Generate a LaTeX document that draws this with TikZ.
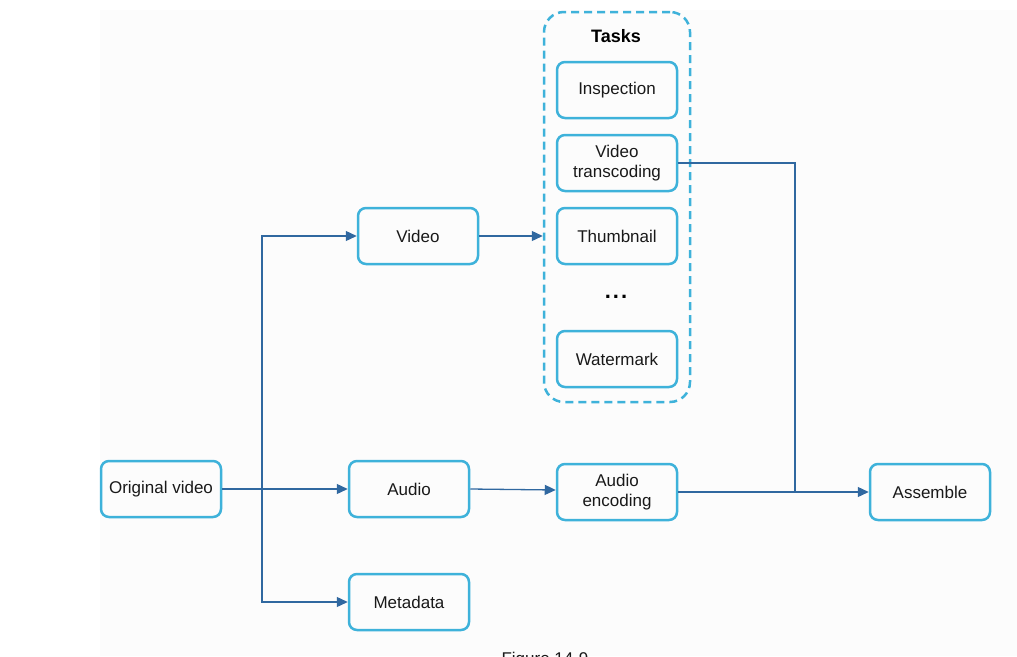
\documentclass[tikz,border=0pt]{standalone}
\usepackage{fontspec}
\setmainfont{Liberation Sans}
\usetikzlibrary{arrows.meta}
\definecolor{boxc}{RGB}{62,178,218}
\definecolor{linec}{RGB}{48,104,160}
\definecolor{bgc}{RGB}{252,252,252}
\definecolor{txtc}{RGB}{25,25,25}
\tikzset{
  box/.style={draw=boxc, line width=2.5pt, rounded corners=8pt, minimum width=120pt, minimum height=56pt, align=center, inner sep=2pt, text=txtc, font=\fontsize{17}{20}\selectfont},
  conn/.style={draw=linec, line width=1.3pt},
  arr/.style={conn, -{Triangle[length=11pt,width=10pt]}},
  group/.style={draw=boxc, line width=2.5pt, dash pattern=on 8pt off 5pt, rounded corners=20pt}
}
\begin{document}
\begin{tikzpicture}[x=1pt,y=-1pt]
\useasboundingbox (0,0) rectangle (1017,656);
\fill[bgc] (100,10) rectangle (1017,656);
% nodes
\node[box] (ov) at (161,489) {Original video};
\node[box] (video) at (418,236) {Video};
\node[box] (audio) at (409,489) {Audio};
\node[box] (meta) at (409,602) {Metadata};
\node[group, minimum width=146pt, minimum height=390pt] (tasks) at (617,207) {};
\node[font=\bfseries\fontsize{18}{20}\selectfont, text=black] (tlabel) at (616,36) {Tasks};
\node[box] (insp) at (617,90) {Inspection};
\node[box] (trans) at (617,163) {Video\\transcoding};
\node[box] (thumb) at (617,236) {Thumbnail};
\node[font=\bfseries\fontsize{22}{22}\selectfont, text=black] (dots) at (616,297) {.\kern2pt.\kern2pt.};
\node[box] (water) at (617,359) {Watermark};
\node[box] (aenc) at (617,492) {Audio\\encoding};
\node[box] (asm) at (930,492) {Assemble};
\node[anchor=base west, font=\fontsize{17}{20}\selectfont, text=txtc] (fig) at (498,664) {Figure 14-9};
% connectors
\coordinate (br) at (262,488);
\coordinate (jn) at (795,491);
\draw[arr] (ov.east) -- (audio.west);
\draw[arr] (br) |- (video.west);
\draw[arr] (br) |- (meta.west);
\draw[arr] (video.east) -- (video.east -| tasks.west);
\draw[arr] (audio.east) -- ([yshift=2pt]aenc.west);
\draw[conn] (trans.east) -- (trans.east -| jn) -- (jn);
\draw[arr] (aenc.east) -- (asm.west);
\end{tikzpicture}
\end{document}
